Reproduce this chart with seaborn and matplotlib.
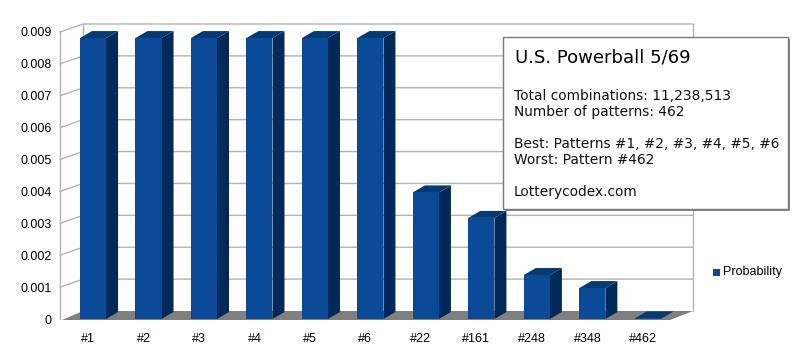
import numpy as np
import pandas as pd
import seaborn as sns
import matplotlib
matplotlib.use("Agg")
import matplotlib.pyplot as plt
from matplotlib.patches import Polygon, Rectangle
from matplotlib.lines import Line2D
from matplotlib.transforms import IdentityTransform, ScaledTranslation

# ---------------- data ----------------
categories = ["#1", "#2", "#3", "#4", "#5", "#6", "#22", "#161", "#248", "#348", "#462"]
probability = [0.00881, 0.00881, 0.00881, 0.00881, 0.00881, 0.00881,
               0.00397, 0.00317, 0.00138, 0.00097, 0.00002]
series_name = "Probability"
yticks = [0, 0.001, 0.002, 0.003, 0.004, 0.005, 0.006, 0.007, 0.008, 0.009]
ytick_labels = ["0", "0.001", "0.002", "0.003", "0.004", "0.005",
                "0.006", "0.007", "0.008", "0.009"]
box_title = "U.S. Powerball 5/69"
box_lines = ["Total combinations: 11,238,513", "Number of patterns: 462", "",
             "Best: Patterns #1, #2, #3, #4, #5, #6", "Worst: Pattern #462", "",
             "Lotterycodex.com"]

# ---------------- style ----------------
W, H = 794, 358
FRONT = "#0a4a96"
SIDE = "#012a5a"
TOP = "#033a74"
GRID = "#b3b3b3"
FLOOR = "#808080"

sns.set_theme(style="white")
plt.rcParams["font.family"] = ["Liberation Sans", "DejaVu Sans"]

fig = plt.figure(figsize=(W / 100, H / 100), dpi=100)
fig.patch.set_facecolor("white")

# front plane of the chart, in pixel terms
L, R, B, T = 60, 670, 319, 32
ax = fig.add_axes([L / W, (H - B) / H, (R - L) / W, (B - T) / H])
ax.set_facecolor("none")

df = pd.DataFrame({"Pattern": categories, "Probability": probability})
sns.barplot(data=df, x="Pattern", y="Probability", color=FRONT, saturation=1,
            width=0.47, ax=ax, zorder=5, linewidth=0)

ax.set_xlim(-0.595, 10.4)
ax.set_ylim(0, 0.009)
ax.set_yticks(yticks)
ax.set_yticklabels(ytick_labels)
for s in ax.spines.values():
    s.set_visible(False)
ax.set_xlabel("")
ax.set_ylabel("")
ax.tick_params(axis="both", length=0, labelsize=9, colors="#000000")
ax.tick_params(axis="y", pad=5.8)
ax.tick_params(axis="x", pad=10)
ax.grid(False)
for lab in ax.get_xticklabels():
    lab.set_transform(lab.get_transform() + ScaledTranslation(-5 / 100, 0, fig.dpi_scale_trans))

# ---------------- pseudo-3D walls / floor ----------------
def D(x, y):
    return np.array(ax.transData.transform((x, y)))

WD = np.array([23.0, 8.0])   # wall depth offset in pixels
BD = np.array([12.0, 7.0])   # bar depth offset in pixels
x0, x1 = ax.get_xlim()
ident = IdentityTransform()

def add_line(pts, **kw):
    pts = np.array(pts)
    fig.add_artist(Line2D(pts[:, 0], pts[:, 1], transform=ident, **kw))

def add_poly(pts, **kw):
    fig.add_artist(Polygon(np.array(pts), closed=True, transform=ident, **kw))

for v in yticks[1:]:
    p = D(x0, v)
    add_line([p, p + WD, D(x1, v) + WD], color=GRID, lw=1.0, zorder=1)
add_line([D(x0, 0), D(x0, yticks[-1])], color=GRID, lw=1.0, zorder=1)
add_line([D(x0, 0) + WD, D(x0, yticks[-1]) + WD], color=GRID, lw=1.0, zorder=1)
add_line([D(x1, 0) + WD, D(x1, yticks[-1]) + WD], color=GRID, lw=1.0, zorder=1)

add_poly([D(x0, 0) + [2, -1], D(x1, 0) + [0, -1], D(x1, 0) + WD, D(x0, 0) + WD],
         facecolor=FLOOR, edgecolor="none", zorder=2)

# 3D faces of bars, derived from the seaborn bars
for patch in list(ax.patches):
    bx, bw, bh = patch.get_x(), patch.get_width(), patch.get_height()
    fl, fr = D(bx, 0), D(bx + bw, 0)
    tl, tr = D(bx, bh), D(bx + bw, bh)
    add_poly([fr, tr, tr + BD, fr + BD], facecolor=SIDE, edgecolor="none", zorder=3)
    add_poly([tl, tr, tr + BD, tl + BD], facecolor=TOP, edgecolor="none", zorder=3)
    patch.set_zorder(4)
    fig.add_artist(Polygon(np.array([fl, fr, tr, tl]), closed=True, transform=ident,
                           facecolor=FRONT, edgecolor="none", zorder=4))

# ---------------- legend ----------------
fig.add_artist(Rectangle((713, H - 276), 7, 7, transform=ident, facecolor=FRONT,
                         edgecolor="none", zorder=6))
fig.text(723 / W, (H - 272.5) / H, series_name, fontsize=9, va="center", ha="left",
         color="#000000")

# ---------------- info box ----------------
bx0, by0, bx1, by1 = 503, 37, 788, 209
fig.add_artist(Rectangle((bx0 + 2, H - by1 - 2), bx1 - bx0, by1 - by0, transform=ident,
                         facecolor="#8a8a8a", edgecolor="none", zorder=7))
fig.add_artist(Rectangle((bx0, H - by1), bx1 - bx0, by1 - by0, transform=ident,
                         facecolor="white", edgecolor="#7a7a7a", lw=1.0, zorder=8))
fig.text(515 / W, 1 - 62 / H, box_title, fontsize=13, va="baseline", ha="left",
         family="DejaVu Sans", color="#000000", zorder=9)
for i, line in enumerate(box_lines):
    if line:
        fig.text(514 / W, 1 - (100 + 16 * i) / H, line, fontsize=9.9, va="baseline",
                 ha="left", family="DejaVu Sans", color="#111111", zorder=9)

fig.savefig("out.png", dpi=100, facecolor="white")
